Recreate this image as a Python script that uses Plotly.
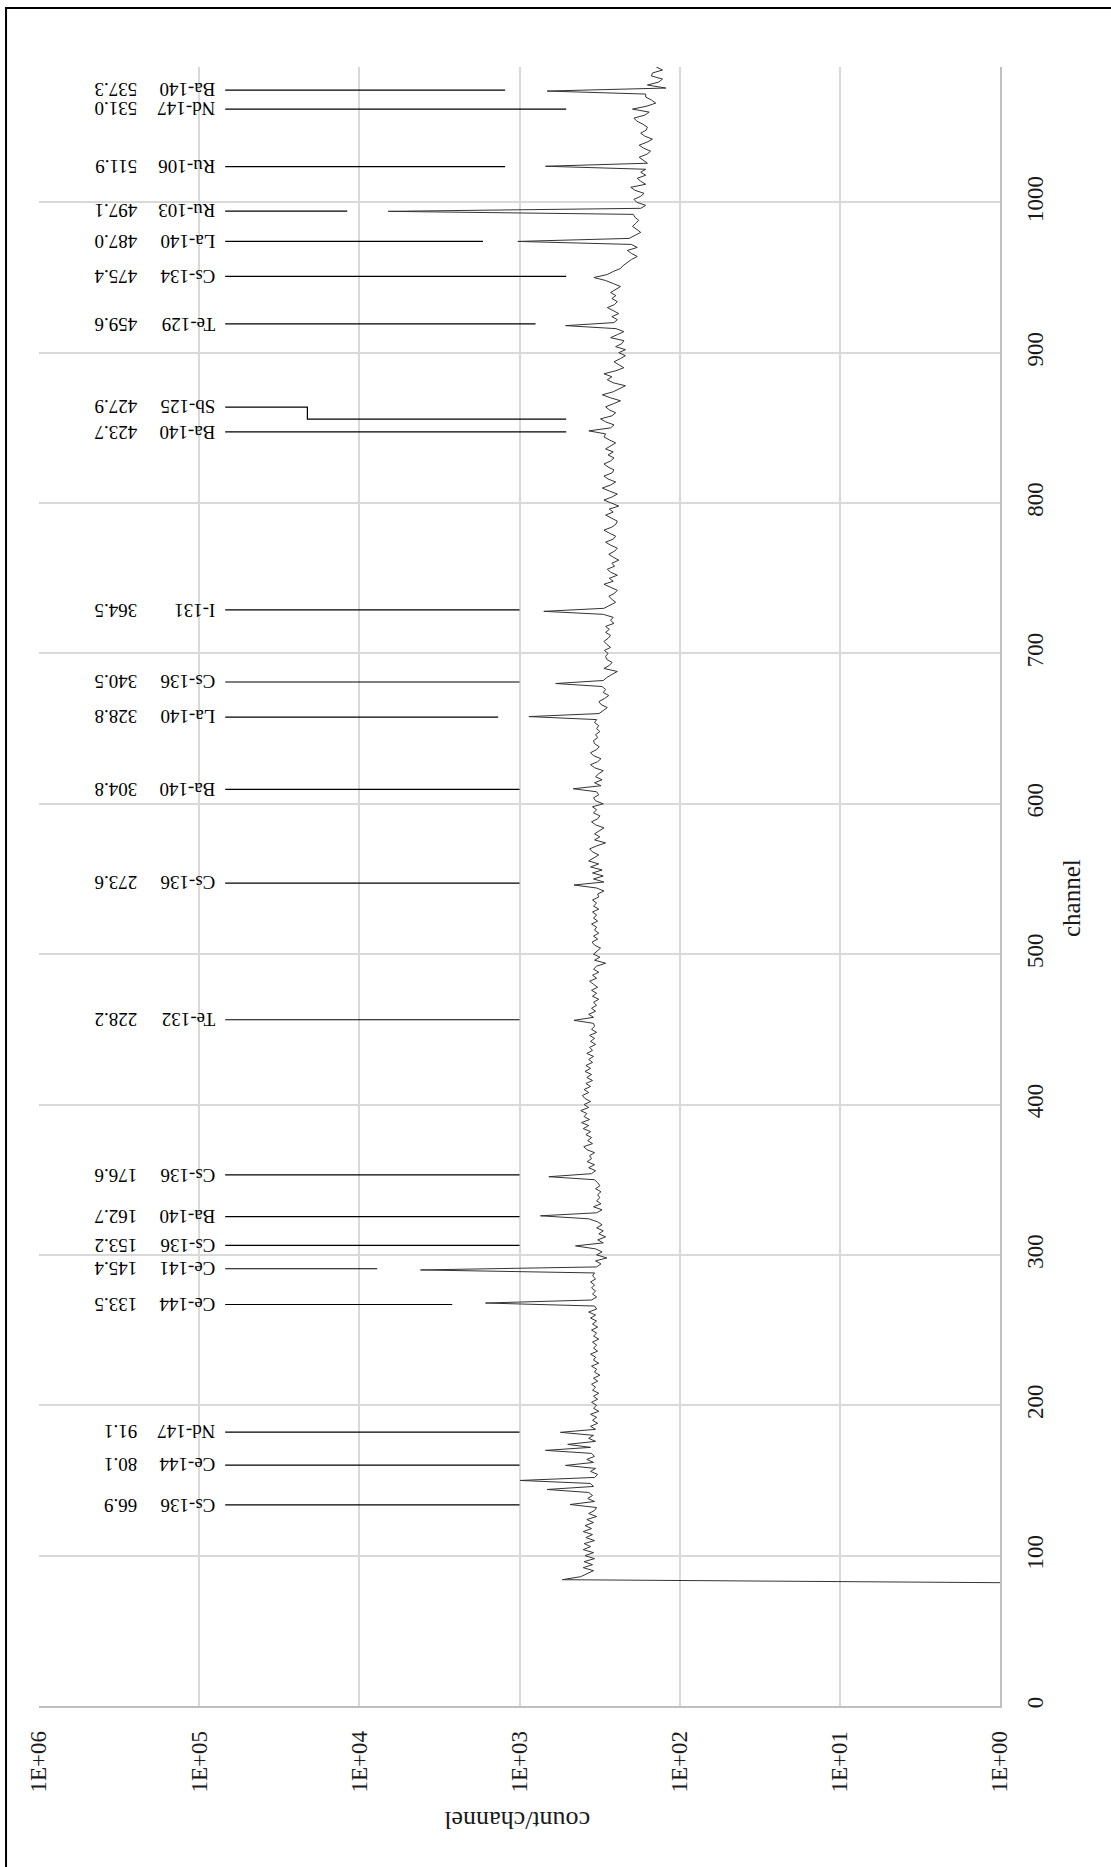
import math
import plotly.graph_objects as go

# ---- gamma spectrum: counts per channel, sampled every 2 channels ----
# each row: (first channel, counts for first, first+2, first+4, ...)
CHANNEL_STEP = 2
SPECTRUM_ROWS = [
    (82,   [1, 540, 415, 380, 345, 400, 350, 395, 340]),
    (100,  [390, 345, 400, 360, 395, 340, 385, 350, 400, 355]),
    (120,  [390, 345, 380, 330, 370, 340, 330, 484, 340, 375]),
    (140,  [350, 370, 672, 345, 360, 990, 340, 325, 360, 335]),
    (160,  [516, 345, 380, 340, 355, 688, 360, 500, 335, 370]),
    (180,  [345, 555, 335, 360, 325, 350, 330, 360, 320, 345]),
    (200,  [330, 355, 325, 345, 320, 350, 335, 355, 325, 345]),
    (220,  [315, 340, 330, 355, 320, 345, 335, 360, 325, 345]),
    (240,  [330, 350, 320, 345, 330, 355, 325, 350, 330, 360]),
    (260,  [335, 370, 330, 340, 1630, 355, 330, 350, 335, 355]),
    (280,  [340, 360, 335, 350, 340, 4150, 330, 310, 335, 285]),
    (300,  [330, 305, 335, 447, 300, 325, 290, 320, 300, 330]),
    (320,  [305, 325, 370, 740, 330, 305, 345, 310, 330, 315]),
    (340,  [325, 310, 335, 315, 325, 340, 656, 355, 335, 370]),
    (360,  [340, 378, 355, 365, 340, 380, 397, 350, 375, 355]),
    (380,  [385, 360, 400, 370, 410, 365, 395, 380, 415, 370]),
    (400,  [395, 360, 390, 405, 370, 395, 360, 385, 350, 380]),
    (420,  [355, 390, 360, 385, 350, 370, 345, 380, 350, 365]),
    (440,  [335, 360, 340, 365, 330, 355, 340, 345, 457, 345]),
    (460,  [370, 335, 355, 330, 345, 320, 350, 330, 355, 325]),
    (480,  [345, 365, 330, 350, 320, 345, 330, 290, 340, 315]),
    (500,  [345, 330, 312, 340, 352, 325, 345, 320, 340, 330]),
    (520,  [355, 325, 345, 330, 350, 320, 345, 330, 350, 320]),
    (540,  [325, 297, 330, 457, 297, 345, 300, 350, 305, 360]),
    (560,  [320, 370, 345, 320, 350, 365, 330, 290, 340, 315]),
    (580,  [340, 320, 297, 335, 355, 325, 315, 345, 330, 350]),
    (600,  [300, 335, 345, 320, 330, 462, 310, 340, 305, 335]),
    (620,  [320, 300, 340, 360, 325, 310, 345, 360, 330, 318]),
    (640,  [340, 345, 325, 335, 315, 330, 320, 340, 330, 874]),
    (660,  [319, 300, 283, 310, 319, 295, 277, 300, 290, 305]),
    (680,  [595, 300, 285, 265, 245, 297, 275, 264, 285, 290]),
    (700,  [280, 295, 270, 285, 297, 280, 270, 290, 275, 290]),
    (720,  [257, 270, 260, 300, 705, 297, 270, 251, 265, 277]),
    (740,  [255, 245, 270, 297, 260, 275, 245, 270, 283, 255]),
    (760,  [265, 240, 260, 277, 255, 245, 270, 290, 260, 251]),
    (780,  [275, 297, 265, 250, 245, 270, 290, 260, 275, 240]),
    (800,  [270, 297, 265, 245, 275, 304, 270, 251, 280, 297]),
    (820,  [265, 257, 280, 297, 270, 257, 280, 260, 290, 270]),
    (840,  [251, 275, 297, 290, 369, 270, 257, 290, 312, 265]),
    (860,  [251, 275, 290, 260, 234, 270, 304, 260, 240, 218]),
    (880,  [260, 283, 265, 297, 250, 223, 240, 257, 235, 218]),
    (900,  [240, 218, 251, 230, 223, 270, 245, 223, 250, 516]),
    (920,  [257, 245, 265, 240, 260, 283, 255, 245, 265, 250]),
    (940,  [270, 250, 234, 260, 290, 343, 283, 260, 234, 225]),
    (960,  [212, 200, 184, 200, 212, 184, 200, 1024, 207, 190]),
    (980,  [175, 185, 197, 188, 180, 190, 195, 6600, 175, 163]),
    (1000, [185, 193, 175, 167, 190, 202, 163, 175, 184, 163]),
    (1020, [175, 163, 688, 159, 170, 179, 160, 152, 168, 179]),
    (1040, [160, 148, 165, 175, 162, 159, 170, 185, 193, 165]),
    (1060, [155, 197, 160, 141, 150, 163, 163, 672, 122, 159]),
    (1080, [135, 128, 150, 148, 128, 140]),
]

# ---- identified peaks ----
KEV_PER_CHANNEL = 0.5
NUCLIDES = ["Ba-140", "Nd-147", "Ru-106", "Ru-103", "La-140", "Cs-134", "Te-129",
            "Sb-125", "Ba-140", "I-131", "Cs-136", "La-140", "Ba-140", "Cs-136",
            "Te-132", "Cs-136", "Ba-140", "Cs-136", "Ce-141", "Ce-144", "Nd-147",
            "Ce-144", "Cs-136"]
ENERGIES_KEV = [537.3, 531.0, 511.9, 497.1, 487.0, 475.4, 459.6,
                427.9, 423.7, 364.5, 340.5, 328.8, 304.8, 273.6,
                228.2, 176.6, 162.7, 153.2, 145.4, 133.5, 91.1,
                80.1, 66.9]
LEADER_END_COUNTS = [1230, 511, 1230, 11900, 1690, 511, 794,
                     511, 511, 1000, 1000, 1359, 1000, 1000,
                     1000, 1000, 1000, 1000, 7740, 2632, 1000,
                     1000, 1000]
# label raised above its peak, with an elbow in the leader (count at the elbow)
LABEL_CHANNEL_SHIFT = [0, 0, 0, 0, 0, 0, 0, 8, 0, 0, 0, 0, 0, 0, 0, 0, 0, 0, 0, 0, 0, 0, 0]
LEADER_ELBOW_COUNT = [None] * 7 + [21100] + [None] * 15
LABEL_COUNT = 68800

COUNT_TICKS = [1, 10, 100, 1000, 10000, 100000, 1000000]
COUNT_TICK_TEXT = ["1E+00", "1E+01", "1E+02", "1E+03", "1E+04", "1E+05", "1E+06"]

SERIF = "Liberation Serif, DejaVu Serif, serif"
TEXT_DARK = "#1a1a1a"

channels, counts = [], []
for start, row in SPECTRUM_ROWS:
    for i, c in enumerate(row):
        channels.append(start + CHANNEL_STEP * i)
        counts.append(c)

fig = go.Figure()

fig.add_trace(go.Scatter(
    x=counts, y=channels, mode="lines",
    line=dict(color="#333333", width=1), hoverinfo="skip", showlegend=False,
))

# leader lines from the labels to the peaks
lx, ly = [], []
for e, end, shift, elbow in zip(ENERGIES_KEV, LEADER_END_COUNTS,
                                LABEL_CHANNEL_SHIFT, LEADER_ELBOW_COUNT):
    ch = e / KEV_PER_CHANNEL
    if elbow is None:
        lx += [LABEL_COUNT, end, None]
        ly += [ch, ch, None]
    else:
        lx += [LABEL_COUNT, elbow, elbow, end, None]
        ly += [ch + shift, ch + shift, ch, ch, None]
fig.add_trace(go.Scatter(
    x=lx, y=ly, mode="lines", line=dict(color="black", width=1.2),
    hoverinfo="skip", showlegend=False,
))

annotations = []
lab_x = math.log10(LABEL_COUNT)
for name, e, shift in zip(NUCLIDES, ENERGIES_KEV, LABEL_CHANNEL_SHIFT):
    ch = e / KEV_PER_CHANNEL + shift
    annotations.append(dict(
        x=lab_x, y=ch, xref="x", yref="y", text=name, showarrow=False,
        textangle=180, xanchor="right", yanchor="middle", xshift=-8,
        font=dict(family=SERIF, size=19, color="black"),
    ))
    annotations.append(dict(
        x=lab_x, y=ch, xref="x", yref="y", text=f"{e:.1f}", showarrow=False,
        textangle=180, xanchor="right", yanchor="middle", xshift=-86,
        font=dict(family=SERIF, size=19, color="black"),
    ))

annotations.append(dict(
    x=0.498, y=-0.07, xref="paper", yref="paper", text="count/channel",
    showarrow=False, textangle=180, xanchor="center", yanchor="middle",
    font=dict(family=SERIF, size=26, color=TEXT_DARK),
))
annotations.append(dict(
    x=1.075, y=0.493, xref="paper", yref="paper", text="channel",
    showarrow=False, textangle=-90, xanchor="center", yanchor="middle",
    font=dict(family=SERIF, size=25, color=TEXT_DARK),
))

fig.update_layout(
    width=1111, height=1867,
    margin=dict(l=39, r=111, t=67, b=161),
    paper_bgcolor="white", plot_bgcolor="white",
    annotations=annotations,
    shapes=[dict(type="rect", xref="paper", yref="paper",
                 x0=-0.0343, x1=1.3, y0=-0.3, y1=1.036,
                 line=dict(color="black", width=2), layer="below")],
    xaxis=dict(
        type="log", range=[6, 0],
        tickvals=COUNT_TICKS, ticktext=COUNT_TICK_TEXT, tickangle=-90,
        tickfont=dict(family=SERIF, size=23, color=TEXT_DARK),
        showgrid=True, gridcolor="#d9d9d9", gridwidth=1.5,
        showline=True, linecolor="#bfbfbf", linewidth=1.5,
        zeroline=False, ticks="", ticklabelstandoff=14,
    ),
    yaxis=dict(
        range=[0, 1090], tick0=0, dtick=100, side="right", tickangle=-90,
        tickfont=dict(family=SERIF, size=23, color=TEXT_DARK),
        showgrid=True, gridcolor="#d9d9d9", gridwidth=1.5,
        showline=True, linecolor="#bfbfbf", linewidth=1.5,
        zeroline=False, ticks="", ticklabelstandoff=14,
    ),
)

fig.write_html("out.html")
